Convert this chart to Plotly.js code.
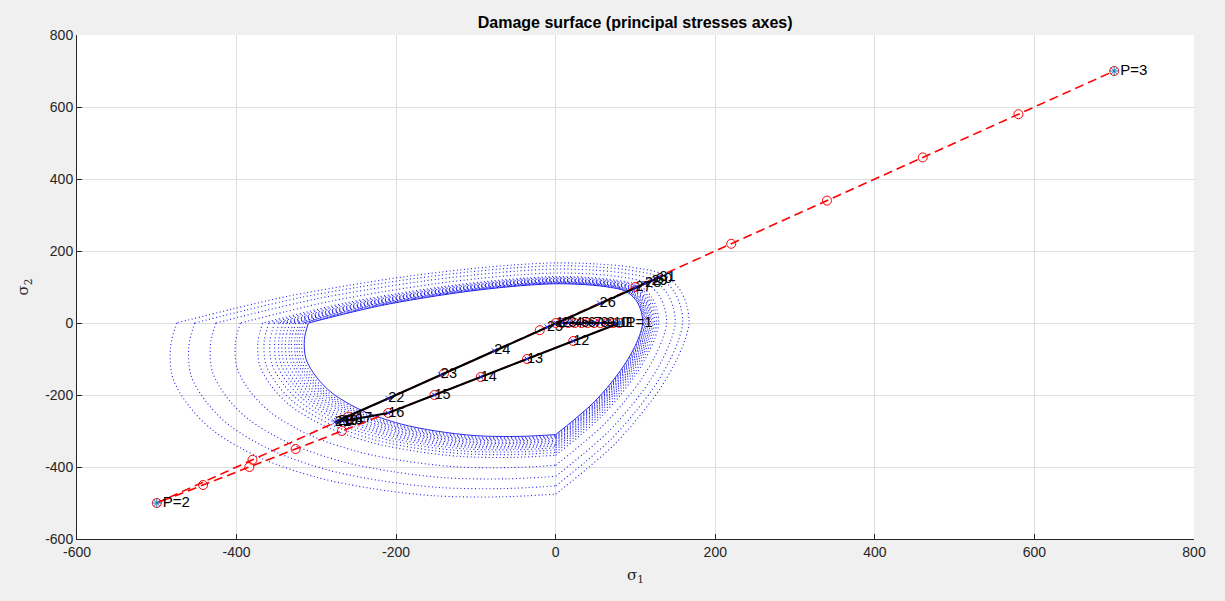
<!DOCTYPE html>
<html>
<head>
<meta charset="utf-8">
<script src="https://cdn.plot.ly/plotly-3.0.1.min.js"></script>
<style>html,body{margin:0;padding:0;background:#f0f0f0;}#chart{width:1225px;height:601px;}</style>
</head>
<body>
<div id="chart"></div>
<script>
// ---- Data ----
// Base (initial) damage surface, two pieces joined at the corners (null = break)
const baseSig1 = [-310,-315,-313,-300,-280,-243,-195,-150,-100,-45,0, null,
                  0,25,48,68,85,97,105,109,107,101,88,62,33,0,-35,-75,-120,-170,-220,-265,-310];
const baseSig2 = [0,-45,-100,-150,-195,-243,-280,-300,-313,-315,-310, null,
                  -310,-265,-220,-170,-120,-75,-35,0,33,62,88,101,107,109,105,97,85,68,48,25,0];
// Size of each successive (dotted) damage surface relative to the initial one
const surfaceScales = [1.01,1.02,1.029,1.038,1.051,1.061,1.075,1.089,1.102,1.118,1.137,1.16,1.185,1.275,1.374,1.46,1.533];

// Imposed (elastic predictor) path, steps 1..31
const imposedSig1 = [0,8,16,24,32,40,48,56,64,72,80,
                     22,-36,-94,-152,-210,-268,-326,-384,-442,-500,
                     -380,-260,-140,-20,100,220,340,460,580,700];
const imposedSig2 = [0,0,0,0,0,0,0,0,0,0,0,
                     -50,-100,-150,-200,-250,-300,-350,-400,-450,-500,
                     -380,-260,-140,-20,100,220,340,460,580,700];
// Actual stress path, steps 1..31
const stressSig1 = [0,8,16,24,32,40,48,56,64,72,80,
                    22,-36,-94,-152,-210,-250,-262,-268,-273,-277,
                    -210,-144,-77,-11,55,100,112,120,126,130];
const stressSig2 = [0,0,0,0,0,0,0,0,0,0,0,
                    -50,-100,-150,-200,-250,-266,-270,-272,-274,-275,
                    -210,-144,-77,-11,55,100,110,117,122,127];
const stepLabels = ['1','2','3','4','5','6','7','8','9','10','11','12','13','14','15','16',
                    '17','18','19','20','21','22','23','24','25','26','27','28','29','30','31'];
// Load path vertices
const vertexSig1 = [80,-500,700];
const vertexSig2 = [0,-500,700];
const vertexLabels = ['P=1','P=2','P=3'];
const axisTicks = [-600,-400,-200,0,200,400,600,800];

// ---- Traces ----
const traces = [];
traces.push({x: baseSig1, y: baseSig2, type:'scatter', mode:'lines',
  line:{color:'rgb(40,40,235)', width:1, shape:'spline', smoothing:0.9},
  hoverinfo:'skip', showlegend:false, connectgaps:false});
surfaceScales.forEach(s => {
  traces.push({x: baseSig1.map(v => v === null ? null : v*s),
               y: baseSig2.map(v => v === null ? null : v*s),
    type:'scatter', mode:'lines',
    line:{color:'rgb(30,30,240)', width:1.1, dash:'1px,2.6px', shape:'spline', smoothing:0.9},
    hoverinfo:'skip', showlegend:false, connectgaps:false});
});
traces.push({x: imposedSig1, y: imposedSig2, type:'scatter', mode:'lines+markers',
  line:{color:'rgb(255,0,0)', width:1.6, dash:'9px,5px'},
  marker:{symbol:'circle-open', size:9, color:'rgb(255,0,0)', line:{width:1, color:'rgb(255,0,0)'}},
  hoverinfo:'skip', showlegend:false});
traces.push({x: stressSig1, y: stressSig2, type:'scatter', mode:'lines+markers',
  line:{color:'#000000', width:2.2},
  marker:{symbol:'x-thin-open', size:5, line:{width:1, color:'rgb(40,40,255)'}, color:'rgb(40,40,255)'},
  hoverinfo:'skip', showlegend:false});
traces.push({x: vertexSig1, y: vertexSig2, type:'scatter', mode:'markers+text',
  marker:{symbol:'asterisk-open', size:8, line:{width:1, color:'rgb(40,40,255)'}},
  text: vertexLabels, textposition:'middle right',
  textfont:{family:'Liberation Sans, Arial, sans-serif', size:15, color:'#000'},
  hoverinfo:'skip', showlegend:false});
traces.push({x: stressSig1, y: stressSig2, type:'scatter', mode:'text',
  text: stepLabels, textposition:'middle right',
  textfont:{family:'Liberation Sans, Arial, sans-serif', size:14.5, color:'#000'},
  hoverinfo:'skip', showlegend:false});

const axisCommon = {
  tickvals: axisTicks, ticktext: axisTicks.map(String),
  showgrid:true, gridcolor:'#dedede', gridwidth:1,
  zeroline:false, showline:true, linecolor:'#262626', linewidth:1,
  ticks:'inside', ticklen:5, tickcolor:'#262626',
  tickfont:{family:'Liberation Sans, Arial, sans-serif', size:14, color:'#262626'},
  fixedrange:true
};

const layout = {
  width:1225, height:601,
  paper_bgcolor:'#f0f0f0', plot_bgcolor:'#ffffff',
  margin:{l:77, r:31, t:35, b:62},
  title:{text:'<b>Damage surface (principal stresses axes)</b>',
    font:{family:'Liberation Sans, Arial, sans-serif', size:16, color:'#000'},
    x:0.5185, xanchor:'center', y:1-22/601, yanchor:'middle', yref:'container'},
  xaxis: Object.assign({}, axisCommon, {range:[-600,800],
    title:{text:'σ<sub>1</sub>', standoff:10, font:{family:'DejaVu Serif, serif', size:15, color:'#262626'}}}),
  yaxis: Object.assign({}, axisCommon, {range:[-600,800],
    title:{text:'σ<sub>2</sub>', standoff:12, font:{family:'DejaVu Serif, serif', size:15, color:'#262626'}}}),
  showlegend:false
};

Plotly.newPlot('chart', traces, layout, {displayModeBar:false, staticPlot:true});
</script>
</body>
</html>
